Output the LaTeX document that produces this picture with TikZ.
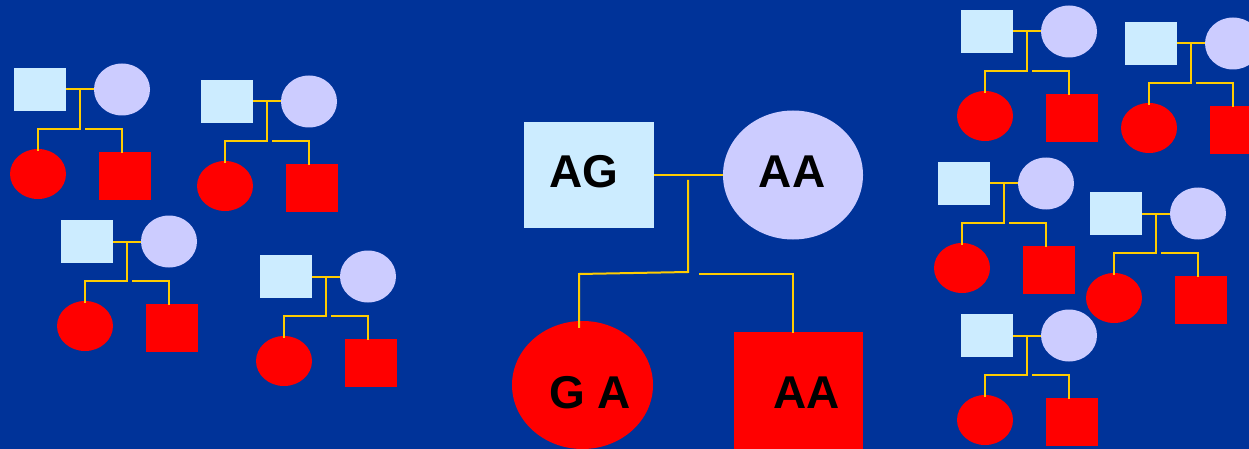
\documentclass[tikz,border=0pt]{standalone}
\usepackage{fontspec}
\setmainfont{Liberation Sans}
\usetikzlibrary{shapes.geometric}

\definecolor{bgblue}{RGB}{0,51,153}
\definecolor{fatherblue}{RGB}{204,236,255}
\definecolor{motherlav}{RGB}{204,204,255}
\definecolor{childred}{RGB}{255,0,0}
\definecolor{lineyellow}{RGB}{255,204,0}

\tikzset{
  male/.style={rectangle, draw=none, inner sep=0pt},
  female/.style={ellipse, draw=none, inner sep=0pt},
  father/.style={male, fill=fatherblue},
  mother/.style={female, fill=motherlav},
  son/.style={male, fill=childred},
  daughter/.style={female, fill=childred},
  link/.style={draw=lineyellow, line width=2pt, line join=miter},
  geno/.style={inner sep=0pt, font=\bfseries\fontsize{46}{46}\selectfont, text=black}
}

% small family: parents above, daughter and son below; #1 = name prefix, (#2,#3) = top-left of father
\newcommand{\smallfamily}[3]{%
  \node[father, minimum width=52pt, minimum height=43pt] (#1-f) at (#2+26, #3+21.5) {};
  \node[mother, minimum width=56pt, minimum height=52pt] (#1-m) at (#2+108, #3+21.5) {};
  \node[daughter, minimum width=56pt, minimum height=50pt] (#1-d) at (#2+24, #3+106) {};
  \node[son, minimum width=52pt, minimum height=48pt] (#1-s) at (#2+111, #3+108) {};
  \coordinate (#1-j) at (#2+66, #3+21.5);
  \coordinate (#1-k) at (#2+66, #3+61);
  \coordinate (#1-r) at (#2+71, #3+61);
  \draw[link] (#1-f.east) -- (#1-m.west);
  \draw[link] (#1-j) -- (#1-k) -| ([yshift=-2pt]#1-d.north);
  \draw[link] (#1-r) -| ([xshift=-3pt,yshift=-1pt]#1-s.north);
}

\begin{document}
\begin{tikzpicture}[x=1pt, y=-1pt]
  \useasboundingbox (0,0) rectangle (1249,449);
  \fill[bgblue] (0,0) rectangle (1249,449);
  \clip (0,0) rectangle (1249,449);

  % left group
  \smallfamily{a}{14}{68}
  \smallfamily{b}{201}{80}
  \smallfamily{c}{61}{220}
  \smallfamily{d}{260}{255}

  % right group
  \smallfamily{e}{961}{10}
  \smallfamily{g}{1125}{22}
  \smallfamily{h}{938}{162}
  \smallfamily{i}{1090}{192}
  \smallfamily{l}{961}{314}

  % central family with genotypes
  \node[father, minimum width=130pt, minimum height=106pt] (F) at (589,175) {};
  \node[mother, minimum width=140pt, minimum height=129pt] (M) at (793,175) {};
  \node[daughter, minimum width=141pt, minimum height=128pt] (D) at (582.5,385) {};
  \node[son, minimum width=129pt, minimum height=129pt] (S) at (798.5,396.5) {};

  \node[geno] (tF) at (584,172) {AG};
  \node[geno] (tM) at (792,172) {AA};
  \node[geno] (tD) at (590,392.5) {G A};
  \node[geno] (tS) at (806.5,392.5) {AA};

  \coordinate (cj) at (688,180);
  \coordinate (ck) at (688,272);
  \coordinate (cl) at (579,274);
  \coordinate (cr) at (699,274);
  \draw[link] (F.east) -- (M.west);
  \draw[link] (cj) -- (ck) -- (cl) -- ([yshift=-7pt]cl |- D.north);
  \draw[link] (cr) -| ([xshift=-5.5pt,yshift=-1pt]S.north);
\end{tikzpicture}
\end{document}
